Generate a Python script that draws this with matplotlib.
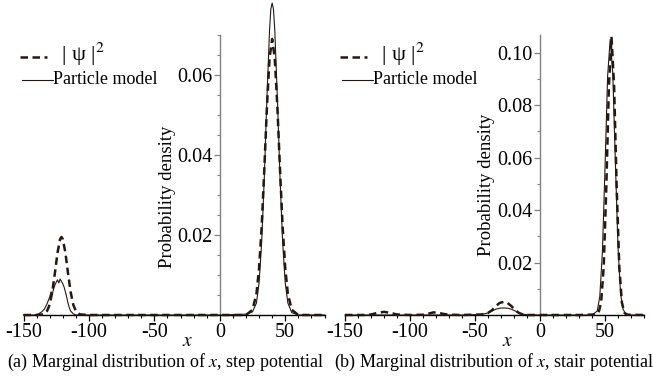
import matplotlib
matplotlib.use("Agg")
import matplotlib.pyplot as plt
from matplotlib.lines import Line2D
from matplotlib.ticker import MultipleLocator, FixedLocator

plt.rcParams['font.family'] = ['Liberation Serif', 'DejaVu Serif']
plt.rcParams['mathtext.fontset'] = 'stix'

# ---- (a) step potential ----
psi_x_a = [-150, -140, -135, -132, -130, -128, -126, -124, -122, -121, -120, -118, -116,
           -114, -112, -110, -107, -100, -50, 0, 20, 25, 28, 30, 32, 34, 36, 38, 40, 42,
           44, 46, 48, 50, 52, 55, 60, 80]
psi_a = [0, 0, 0.00015, 0.001, 0.0026, 0.0058, 0.0105, 0.0156, 0.019, 0.0195, 0.019,
         0.0156, 0.0105, 0.0058, 0.0026, 0.001, 0.00015, 0, 0, 0, 0, 0.0013, 0.0053,
         0.0117, 0.0221, 0.0364, 0.0519, 0.0642, 0.069, 0.0642, 0.0519, 0.0364, 0.0221,
         0.0117, 0.0053, 0.0013, 0, 0]

pm_x_a = [-150, -142, -139, -136, -134, -132, -130, -129, -128, -127, -126, -125, -124,
          -123, -122, -121, -120, -119, -118, -117, -116, -115, -114, -112, -110, -100, 0,
          20, 25, 28, 30, 32, 34, 36, 38, 39, 40, 41, 42, 44, 46, 48, 50, 52, 55, 60, 80]
pm_a = [0, 0, 0.0002, 0.0008, 0.0015, 0.0028, 0.0045, 0.0058, 0.0052, 0.0065, 0.0075,
        0.0082, 0.0088, 0.0080, 0.0090, 0.0084, 0.0078, 0.0070, 0.0058, 0.0045, 0.0030,
        0.0018, 0.0010, 0.0003, 0, 0, 0, 0.0002, 0.0008, 0.003, 0.008, 0.0183, 0.0344,
        0.0542, 0.0712, 0.0765, 0.078, 0.0765, 0.0712, 0.0542, 0.0344, 0.0183, 0.008,
        0.003, 0.0006, 0, 0]

# ---- (b) stair potential ----
psi_x_b = [-150, -135, -130, -125, -120, -115, -110, -100, -90, -85, -82, -78, -74, -70,
           -60, -45, -40, -37, -34, -31, -28, -25, -22, -19, -16, -13, -10, 0, 30, 43, 45,
           47, 49, 51, 53, 55, 57, 59, 61, 63, 65, 67, 80]
psi_b = [0, 0, 0.0002, 0.0008, 0.0012, 0.0008, 0.0002, 0, 0.0001, 0.0006, 0.001, 0.0008,
         0.0004, 0.0001, 0, 0.0002, 0.0008, 0.0018, 0.0034, 0.0046, 0.005, 0.0046,
         0.0034, 0.0018, 0.0007, 0.0002, 0, 0, 0, 0.0002, 0.0008, 0.0047, 0.0183, 0.0486,
         0.0872, 0.106, 0.0872, 0.0486, 0.0183, 0.0047, 0.0008, 0.0001, 0]

pm_x_b = [-150, -60, -45, -40, -37, -34, -31, -28, -25, -22, -19, -16, -13, -10, 0, 40,
          44, 46, 48, 50, 52, 54, 56, 58, 60, 62, 64, 66, 70, 80]
pm_b = [0, 0, 0.0002, 0.0008, 0.0015, 0.0022, 0.0026, 0.0027, 0.0026, 0.0022, 0.0015,
        0.0008, 0.0003, 0.0001, 0, 0, 0.0015, 0.007, 0.024, 0.056, 0.091, 0.105, 0.092,
        0.058, 0.026, 0.008, 0.002, 0.0005, 0, 0]

xticks = [-150, -100, -50, 0, 50]
yticks_a = [0.02, 0.04, 0.06]
yticks_b = [0.02, 0.04, 0.06, 0.08, 0.10]
captions = ["(a) Marginal distribution of $\\mathit{x}$, step potential",
            "(b) Marginal distribution of $\\mathit{x}$, stair potential"]

INK = '#231815'
W, H = 653, 378
fig = plt.figure(figsize=(W / 100, H / 100), dpi=100)


def fx(px):
    return px / W


def fy(py):
    return 1 - py / H


panels = [
    dict(rect=[fx(23.5), fy(315), fx(301), 280 / H], ylim=0.07, yt=yticks_a, ym=0.005,
         psi=(psi_x_a, psi_a), pm=(pm_x_a, pm_a), ylab=(167, 197), xlab=(188, 341),
         cap=(166, 362), leg=20),
    dict(rect=[fx(345), fy(315), fx(299), 280 / H], ylim=0.1067, yt=yticks_b, ym=0.01,
         psi=(psi_x_b, psi_b), pm=(pm_x_b, pm_b), ylab=(487, 185), xlab=(508, 341),
         cap=(494, 362), leg=340),
]

for i, p in enumerate(panels):
    ax = fig.add_axes(p['rect'])
    ax.set_xlim(-150, 80)
    ax.set_ylim(0, p['ylim'])
    ax.plot(p['pm'][0], p['pm'][1], color=INK, lw=0.8, clip_on=False, zorder=3)
    ax.plot(p['psi'][0], p['psi'][1], color=INK, lw=1.8, dashes=(3.0, 1.8),
            clip_on=False, zorder=4)

    for s in ('top', 'right'):
        ax.spines[s].set_visible(False)
    ax.spines['left'].set_position(('data', 0))
    ax.spines['left'].set_color('#808080')
    ax.spines['left'].set_linewidth(1.0)
    ax.spines['bottom'].set_color('black')
    ax.spines['bottom'].set_linewidth(1.0)

    ax.xaxis.set_major_locator(FixedLocator(xticks))
    ax.xaxis.set_minor_locator(MultipleLocator(10))
    ax.set_xticklabels([str(v) for v in xticks])
    ax.yaxis.set_major_locator(FixedLocator(p['yt']))
    ax.yaxis.set_minor_locator(MultipleLocator(p['ym']))
    ax.set_yticklabels([f"{v:.2f}" for v in p['yt']])

    ax.tick_params(axis='x', which='major', direction='out', length=4, width=0.9,
                   labelsize=14.5, pad=2)
    ax.tick_params(axis='x', which='minor', direction='out', length=2.5, width=0.8)
    ax.tick_params(axis='y', which='major', direction='out', length=4.5, width=0.9,
                   color='#808080', labelsize=14.5, pad=1)
    ax.tick_params(axis='y', which='minor', direction='out', length=2.5, width=0.8,
                   color='#808080')

    fig.text(fx(p['ylab'][0]), fy(p['ylab'][1]), 'Probability density', rotation=90,
             ha='center', va='center', fontsize=13.5)
    fig.text(fx(p['xlab'][0]), fy(p['xlab'][1]), '$\\mathit{x}$', ha='center',
             va='center', fontsize=14)
    fig.text(fx(p['cap'][0]), fy(p['cap'][1]), captions[i], ha='center', va='center',
             fontsize=13)

    # legend
    lx = p['leg']
    fig.add_artist(Line2D([fx(lx), fx(lx + 27)], [fy(57), fy(57)], color=INK, lw=1.8,
                          dashes=(3.0, 1.8), transform=fig.transFigure))
    fig.text(fx(lx + 41), fy(54), '| ψ |$^2$', ha='left', va='center', fontsize=16)
    fig.add_artist(Line2D([fx(lx + 2), fx(lx + 33)], [fy(80), fy(80)], color=INK, lw=0.8,
                          transform=fig.transFigure))
    fig.text(fx(lx + 33), fy(80), 'Particle model', ha='left', va='center', fontsize=13)

fig.savefig('out.png', dpi=100)
